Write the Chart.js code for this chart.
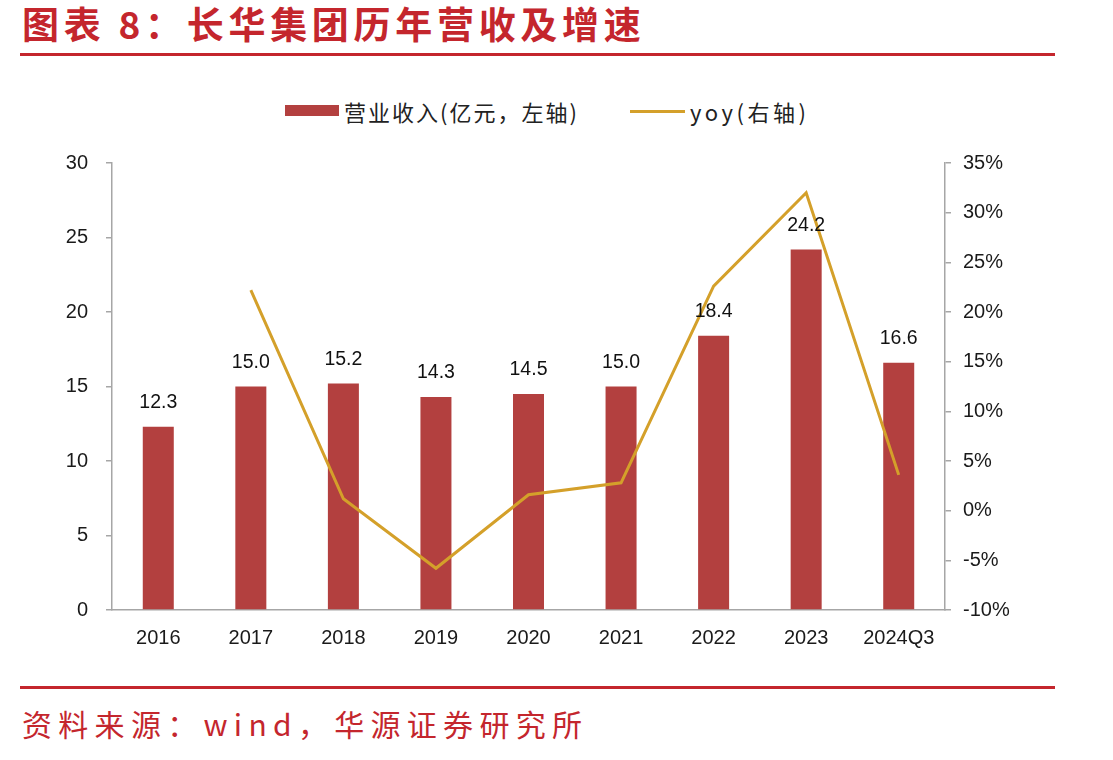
<!DOCTYPE html>
<html><head><meta charset="utf-8">
<script src="https://cdn.jsdelivr.net/npm/chart.js@4"></script>
<style>
html,body{margin:0;padding:0;background:#fff;width:1113px;height:760px;overflow:hidden;position:relative;}
#title{position:absolute;left:22px;top:0px;font-family:"Noto Sans CJK SC";font-weight:700;font-size:37px;letter-spacing:4.7px;color:#C4262D;white-space:nowrap;line-height:46px;}
.rule{position:absolute;left:20px;width:1035px;height:3px;background:#C4262D;}
#src{position:absolute;left:22px;top:703px;font-family:"Noto Sans CJK SC";font-size:30px;letter-spacing:6.3px;color:#C4262D;white-space:nowrap;line-height:40px;}
#legend{position:absolute;top:96px;left:0;font-family:"Noto Sans CJK SC";font-size:22px;letter-spacing:2px;color:#222;white-space:nowrap;}
.lg{position:absolute;top:0;line-height:30px;}
.sw{position:absolute;}
#chartWrap{position:absolute;left:0;top:133px;width:1113px;height:537px;}
</style></head>
<body>
<div id="title">图表 8：长华集团历年营收及增速</div>
<div class="rule" style="top:53px"></div>
<div id="legend"></div>
<div id="chartWrap"><canvas id="c" width="1113" height="537"></canvas></div>
<div class="rule" style="top:686px"></div>
<div id="src">资料来源：wind，华源证券研究所</div>
<script>
const categories = ["2016","2017","2018","2019","2020","2021","2022","2023","2024Q3"];
const revenue = [12.3, 15.0, 15.2, 14.3, 14.5, 15.0, 18.4, 24.2, 16.6];
const yoy = [null, 22.2, 1.2, -5.8, 1.6, 2.8, 22.6, 32.0, 3.6];
const revenueLabel = "营业收入(亿元，左轴)";
const yoyLabel = "yoy(右轴)";
const barColor = "#B3403F";
const lineColor = "#D4A02A";

// HTML legend
const lg = document.getElementById('legend');
lg.innerHTML =
  '<div class="sw" style="left:285px;top:9px;width:54px;height:11px;background:'+barColor+'"></div>'+
  '<div class="lg" style="left:344px">'+revenueLabel+'</div>'+
  '<div class="sw" style="left:630px;top:14px;width:55px;height:3px;background:'+lineColor+'"></div>'+
  '<div class="lg" style="left:690px;letter-spacing:3.5px">'+yoyLabel+'</div>';

const labelPlugin = {
  id:'barLabels',
  afterDatasetsDraw(chart){
    const ctx = chart.ctx;
    const idx = chart.data.datasets.findIndex(d=>d.type==='bar');
    const meta = chart.getDatasetMeta(idx);
    ctx.save();
    ctx.font = '19.5px "Liberation Sans", Arial, sans-serif';
    ctx.fillStyle = '#111';
    ctx.textAlign = 'center';
    ctx.textBaseline = 'middle';
    meta.data.forEach((el,i)=>{
      ctx.fillText(revenue[i].toFixed(1), el.x, el.y - 24);
    });
    ctx.restore();
  }
};

const axisGrey = '#A6A6A6';
const tickFont = {family:'"Liberation Sans", Arial, sans-serif', size:20};

new Chart(document.getElementById('c'), {
  data:{
    labels:categories,
    datasets:[
      {type:'line', label:yoyLabel, data:yoy, yAxisID:'y1', borderColor:lineColor, backgroundColor:lineColor, borderWidth:3, pointRadius:0, tension:0, spanGaps:false, order:0},
      {type:'bar', label:revenueLabel, data:revenue, yAxisID:'y', backgroundColor:barColor, categoryPercentage:1, barPercentage:0.335, order:1}
    ]
  },
  options:{
    responsive:false,
    animation:false,
    layout:{padding:{top:0,left:0,right:0,bottom:0}},
    plugins:{legend:{display:false}, tooltip:{enabled:false}},
    scales:{
      x:{
        offset:true,
        grid:{display:false},
        border:{display:true,color:axisGrey,width:1.5},
        ticks:{font:tickFont,color:'#1a1a1a',padding:8,maxRotation:0},
        afterFit(s){s.height=60;}
      },
      y:{
        position:'left',min:0,max:30,
        ticks:{stepSize:5,font:tickFont,color:'#1a1a1a',padding:18},
        grid:{drawOnChartArea:false,drawTicks:true,tickLength:6,color:axisGrey,lineWidth:1.5},
        border:{display:true,color:axisGrey,width:1.5},
        afterFit(s){s.width=112;}
      },
      y1:{
        position:'right',min:-10,max:35,
        ticks:{stepSize:5,font:tickFont,color:'#1a1a1a',padding:12,callback:v=>v+'%'},
        grid:{drawOnChartArea:false,drawTicks:true,tickLength:6,color:axisGrey,lineWidth:1.5},
        border:{display:true,color:axisGrey,width:1.5},
        afterFit(s){s.width=168;}
      }
    }
  },
  plugins:[labelPlugin]
});
</script>
</body></html>
